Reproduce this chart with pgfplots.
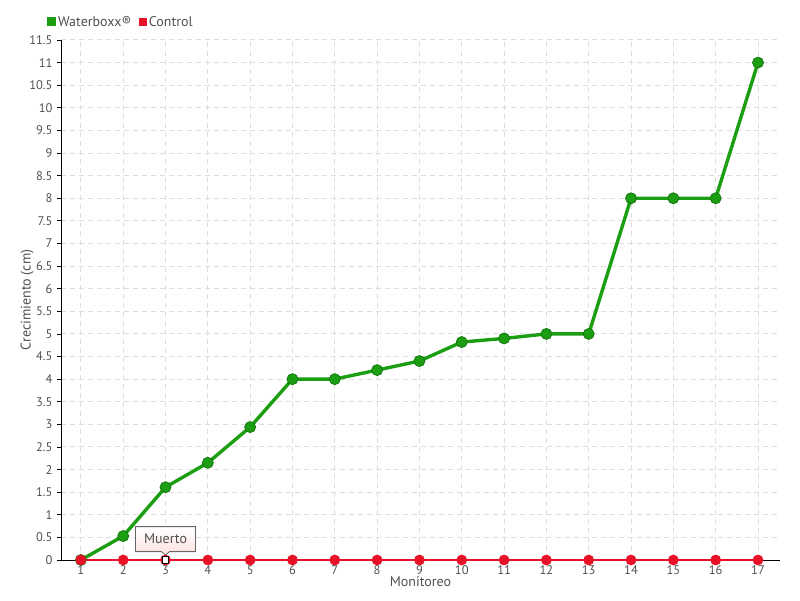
\documentclass[border=0pt]{standalone}
\usepackage{fontspec}
\setmainfont{PT Sans}
\usepackage{pgfplots}
\pgfplotsset{compat=1.18}
\usetikzlibrary{shapes.callouts}
\definecolor{wgreen}{RGB}{28,158,18}
\definecolor{wgreendk}{RGB}{20,120,15}
\definecolor{cred}{RGB}{232,18,40}
\definecolor{txtgray}{RGB}{80,80,80}
\definecolor{gridgray}{RGB}{222,222,222}
\begin{document}
\begin{tikzpicture}[x=1pt,y=1pt]
\path[use as bounding box] (0,0) rectangle (800,600);
\begin{axis}[
  at={(61pt,40pt)}, anchor=south west,
  scale only axis, width=719pt, height=520pt,
  xmin=0.53, xmax=17.52, ymin=0, ymax=11.5,
  axis x line*=bottom, axis y line*=left,
  axis line style={black, line width=1pt, -},
  xtick={1,...,17},
  ytick={0,0.5,...,11.5},
  tick align=outside,
  major tick length=4pt,
  tick style={black, line width=0.8pt},
  grid=major,
  grid style={gridgray, line width=1pt, dash pattern=on 5pt off 4pt},
  /pgf/number format/assume math mode=true,
  /pgf/number format/fixed,
  /pgf/number format/precision=1,
  ticklabel style={font=\fontsize{12.5}{12.5}\selectfont, text=txtgray},
  yticklabel style={xshift=-1pt},
  xticklabel style={yshift=2pt},
  xlabel={Monitoreo},
  ylabel={Crecimiento (cm)},
  label style={font=\fontsize{14}{14}\selectfont, text=txtgray},
  xlabel style={at={(axis description cs:0.5,-0.042)}, anchor=center},
  ylabel style={at={(axis description cs:-0.047,0.5)}, anchor=center},
  legend columns=2,
  legend style={at={(axis description cs:-0.02,1.035)}, anchor=west, draw=none, fill=none,
    inner sep=0pt, font=\fontsize{14}{14}\selectfont, text=txtgray,
    /tikz/every even column/.append style={column sep=6pt}},
  clip=false,
]
\addplot[wgreen, line width=3.4pt, mark=*, mark size=5.5pt,
  mark options={fill=wgreen, draw=wgreendk, line width=0.8pt},
  legend image code/.code={\fill[wgreen] (0pt,-3pt) rectangle (6pt,3pt);}]
coordinates {
(1,0) (2,0.53) (3,1.61) (4,2.15) (5,2.94) (6,4.0) (7,4.0) (8,4.2) (9,4.4)
(10,4.82) (11,4.9) (12,5.0) (13,5.0) (14,8.0) (15,8.0) (16,8.0) (17,11.0)
};
\addlegendentry{Waterboxx®}
\addplot[cred, line width=1.5pt, mark=*, mark size=4.6pt,
  mark options={fill=cred, draw=cred},
  legend image code/.code={\fill[cred] (0pt,-3pt) rectangle (6pt,3pt);}]
coordinates {
(1,0) (2,0) (3,0) (4,0) (5,0) (6,0) (7,0) (8,0) (9,0)
(10,0) (11,0) (12,0) (13,0) (14,0) (15,0) (16,0) (17,0)
};
\addlegendentry{Control}
\addplot[forget plot, only marks, mark=square*, mark size=3.2pt,
  mark options={fill=white, draw=black, line width=1.2pt}]
coordinates {(3,0)};
\node[rectangle callout, draw=gray!80!black, line width=0.8pt,
  top color=white, bottom color=red!12,
  minimum width=60pt, minimum height=25pt, inner sep=2pt,
  font=\fontsize{14}{14}\selectfont, text=txtgray,
  callout absolute pointer={([yshift=5pt]axis cs:3,0)},
  callout pointer width=8pt,
  anchor=south] at ([yshift=8pt]axis cs:3,0) {Muerto};
\end{axis}
\end{tikzpicture}
\end{document}
